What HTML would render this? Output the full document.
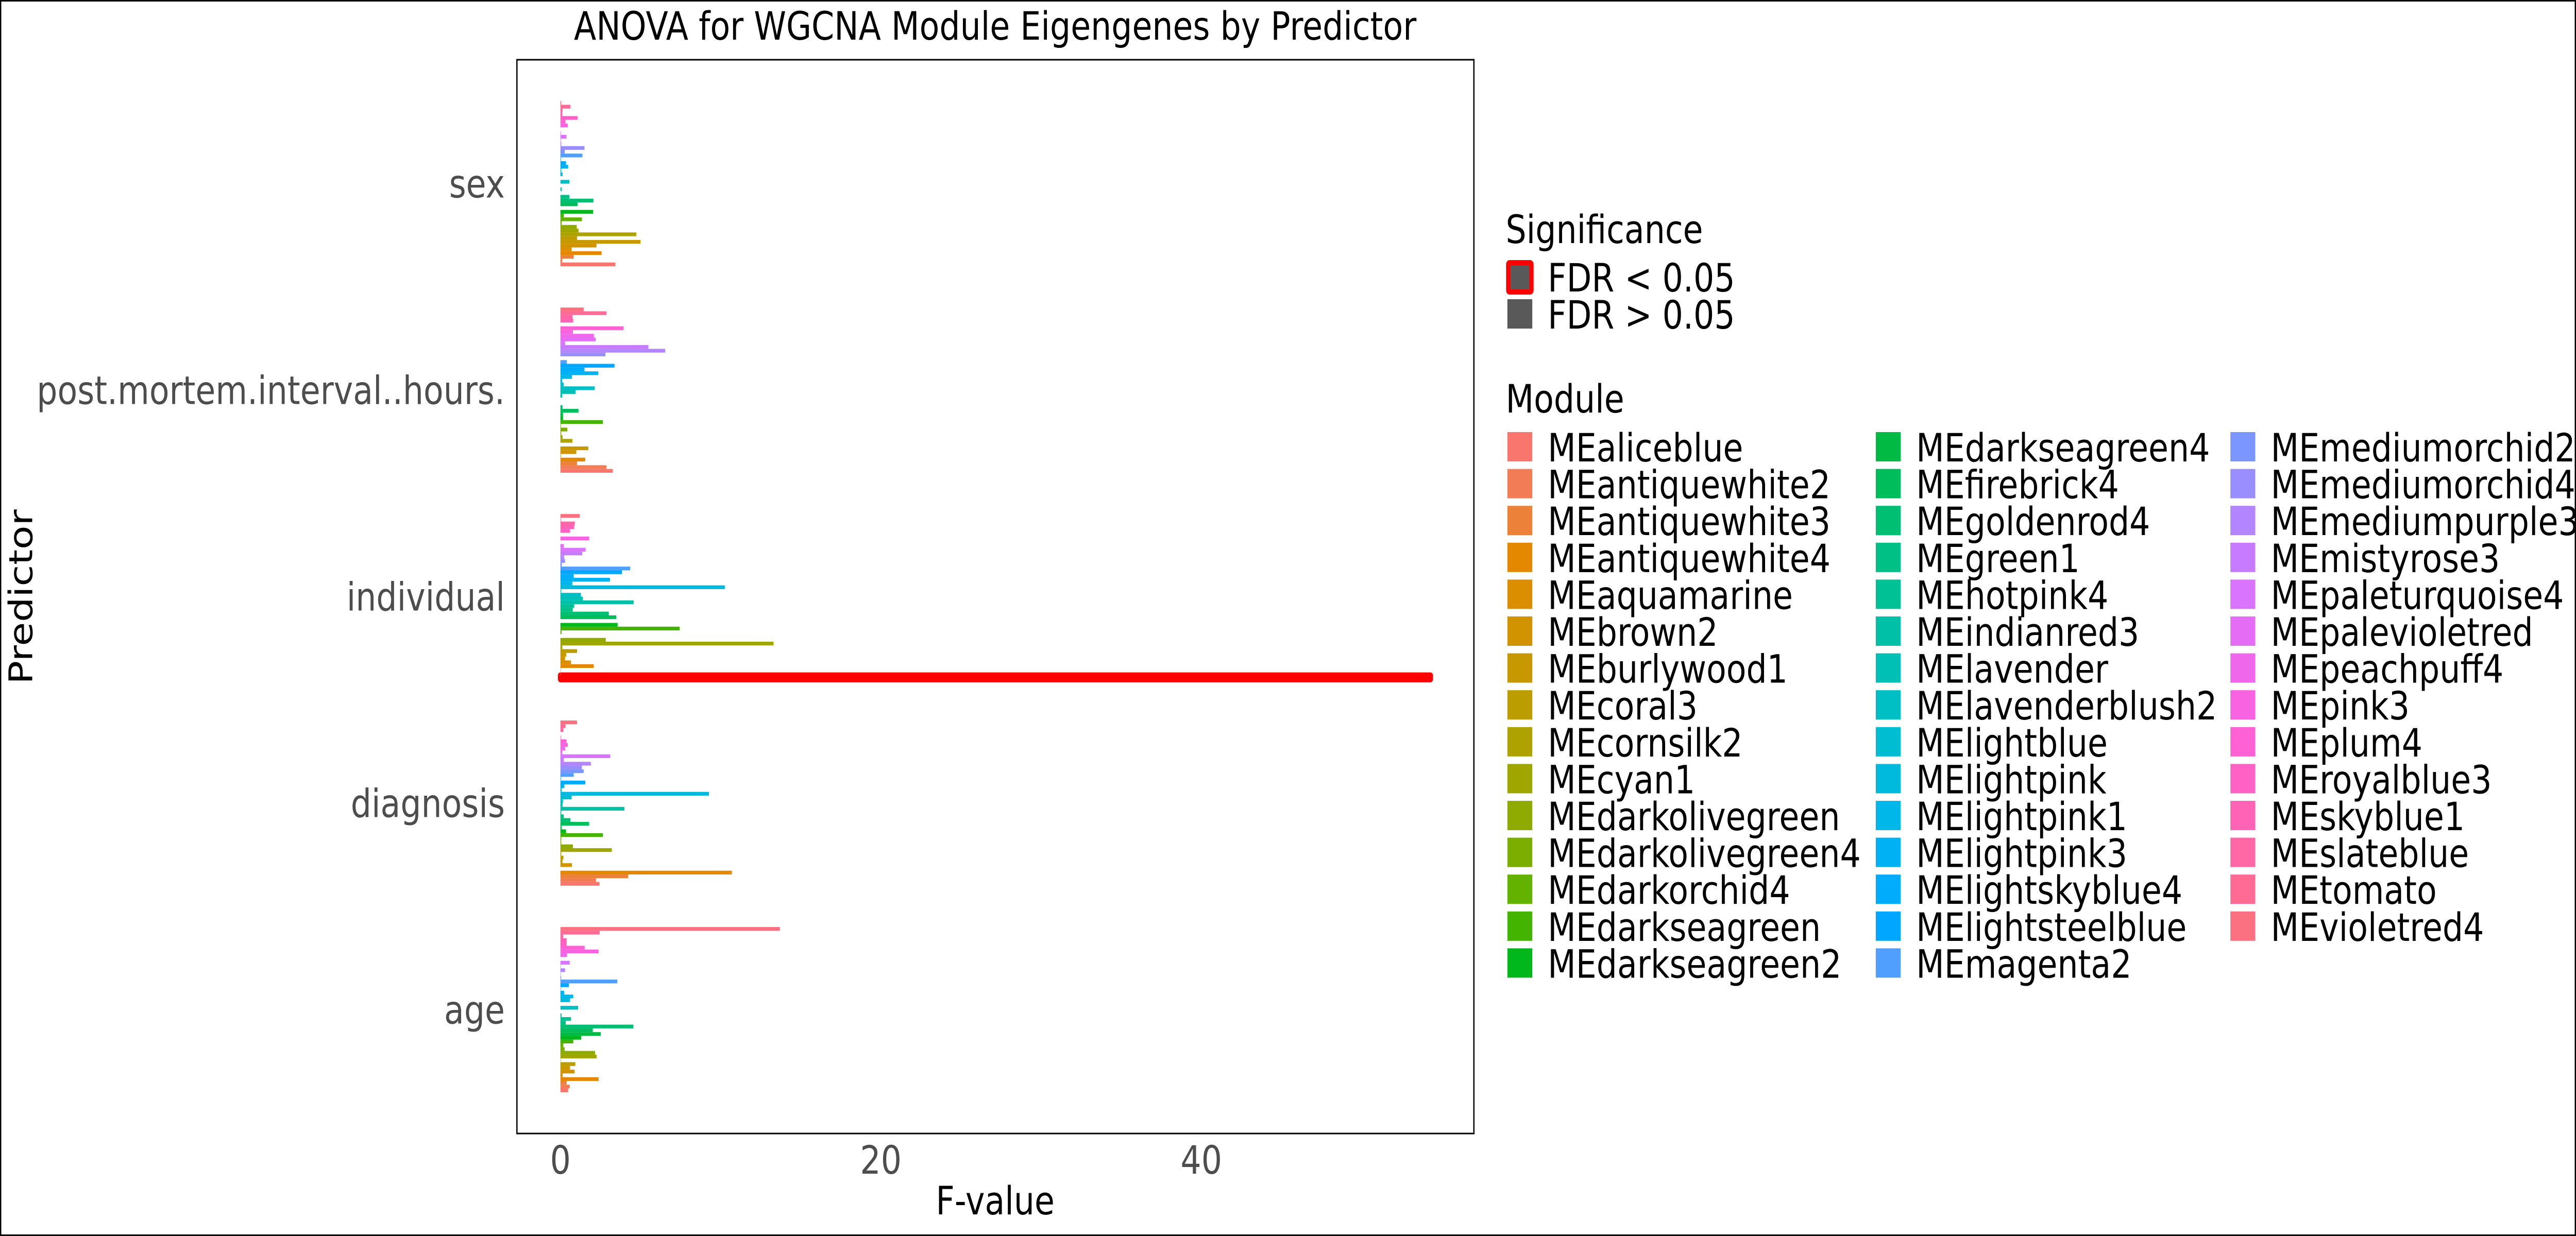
<!DOCTYPE html>
<html><head><meta charset="utf-8"><style>
html,body{margin:0;padding:0;background:#fff;overflow:hidden;width:100vw;height:100vh}
svg{display:block;width:100vw;height:100vh;font-family:"DejaVu Sans","Liberation Sans",sans-serif}
</style></head><body>
<svg id="chart" viewBox="0 0 6000 2400" preserveAspectRatio="none">
<rect x="1.5" y="1.5" width="5997" height="2397" fill="#fff" stroke="#000" stroke-width="3"/>
<text x="2318" y="77" font-size="76" text-anchor="middle" fill="#000">ANOVA for WGCNA Module Eigengenes by Predictor</text>
<g id="bars"></g>
<rect x="1204" y="116" width="2229" height="2085" fill="none" stroke="#000" stroke-width="3"/>
<g id="yaxis"></g>
<g id="xaxis"></g>
<text x="2318" y="2358" font-size="76" text-anchor="middle" fill="#000">F-value</text>
<text transform="translate(75,1159) rotate(-90)" font-size="76" text-anchor="middle" fill="#000">Predictor</text>
<g id="legend">
<text x="3507" y="472" font-size="76" fill="#000">Significance</text>
<rect x="3513" y="510" width="54" height="57" rx="3" fill="#595959" stroke="#ff0000" stroke-width="10"/>
<text x="3605" y="566" font-size="76" fill="#000">FDR &lt; 0.05</text>
<rect x="3511" y="581" width="58" height="57" fill="#595959"/>
<text x="3605" y="638" font-size="76" fill="#000">FDR &gt; 0.05</text>
<text x="3507" y="801" font-size="76" fill="#000">Module</text>
</g>
</svg>
<script>
const modules = ["MEaliceblue","MEantiquewhite2","MEantiquewhite3","MEantiquewhite4","MEaquamarine","MEbrown2","MEburlywood1","MEcoral3","MEcornsilk2","MEcyan1","MEdarkolivegreen","MEdarkolivegreen4","MEdarkorchid4","MEdarkseagreen","MEdarkseagreen2","MEdarkseagreen4","MEfirebrick4","MEgoldenrod4","MEgreen1","MEhotpink4","MEindianred3","MElavender","MElavenderblush2","MElightblue","MElightpink","MElightpink1","MElightpink3","MElightskyblue4","MElightsteelblue","MEmagenta2","MEmediumorchid2","MEmediumorchid4","MEmediumpurple3","MEmistyrose3","MEpaleturquoise4","MEpalevioletred","MEpeachpuff4","MEpink3","MEplum4","MEroyalblue3","MEskyblue1","MEslateblue","MEtomato","MEvioletred4"];
const predictors = ["age","diagnosis","individual","post.mortem.interval..hours.","sex"];
const fAge = [0.48,0.58,0.39,2.38,0.14,0.88,0.60,0.93,0.02,2.26,2.16,0.26,0.18,0.80,1.30,2.52,2.02,4.55,0.33,0.66,0.07,0,1.10,0,0.60,0.80,0.23,0.02,0.53,3.55,0.04,0.02,0.29,0.02,0.58,0,0.41,2.38,1.51,0.39,0.39,0.17,2.45,13.7];
const fDiagnosis = [2.44,2.22,4.23,10.7,0,0.72,0.13,0.19,0.05,3.21,0.78,0.05,0.05,2.65,0.35,0.08,1.79,0.62,0.21,0.05,3.99,0.13,0.16,0.70,9.27,0.08,0.24,1.55,0.03,0.83,1.45,1.34,1.90,0.21,3.11,0.11,0.29,0.46,0.375,0.03,0,0.19,0.32,1.04];
const fIndividual = [54.3,0.02,0.02,2.08,0.66,0.29,0.36,1.04,0.12,13.3,2.83,0,0.07,7.44,3.57,0,3.49,3.02,0.77,0.86,4.57,1.39,1.28,0.04,10.26,0.74,3.09,0.83,3.84,4.35,0.09,0.29,0.23,1.36,1.57,0.21,0,1.79,0,0.60,0.86,0.90,0.03,1.20];
const fPMI = [3.27,2.87,1.04,1.55,0.03,0.99,1.74,0,0.75,0.13,0.05,0.43,0.03,2.65,0.16,0.16,1.125,0.13,0,0,0.11,0.94,2.14,0.21,0.11,0.72,2.36,1.5,3.375,0.40,0,2.81,6.54,5.49,0.29,2.2,2.09,0.78,3.94,0,0.80,0.75,2.87,1.45];
const fSex = [3.43,0.11,0.83,2.57,0.70,2.25,5.0,1.04,4.74,1.13,1.02,0.08,1.34,0.21,2.04,0,1.07,2.06,0.56,0,0.08,0,0.56,0,0.13,0.05,0.48,0.35,0.03,1.37,0.27,1.5,0.05,0.03,0.375,0.03,0,0.46,0.32,1.07,0.11,0.13,0.62,0.05];
const significantPredictor = ["individual"];
const significantModule = ["MEaliceblue"];
const xTicks = [0,20,40];

const NS="http://www.w3.org/2000/svg";
const series=[fAge,fDiagnosis,fIndividual,fPMI,fSex];
function hcl(h,c,l){
  const Xn=95.047,Yn=100,Zn=108.883;
  const hr=h*Math.PI/180,U=c*Math.cos(hr),V=c*Math.sin(hr);
  const Y=l>8?Yn*Math.pow((l+16)/116,3):Yn*l/903.3;
  const t=Xn+15*Yn+3*Zn,un=4*Xn/t,vn=9*Yn/t;
  const u=U/(13*l)+un,v=V/(13*l)+vn;
  const X=9*Y*u/(4*v),Z=-X/3-5*Y+3*Y/v;
  const x=X/100,y=Y/100,z=Z/100;
  let r=3.240479*x-1.53715*y-0.498535*z,g=-0.969256*x+1.875992*y+0.041556*z,b=0.055648*x-0.204043*y+1.057311*z;
  const gm=q=>{q=q<=0.0031308?12.92*q:1.055*Math.pow(q,1/2.4)-0.055;return Math.round(Math.max(0,Math.min(1,q))*255);};
  return "rgb("+gm(r)+","+gm(g)+","+gm(b)+")";
}
const n=modules.length;
const colors=modules.map((m,i)=>hcl(15+360*i/n,100,65));
const panelL=1204,panelR=3433,panelT=116,panelB=2201;
let fmax=0;series.forEach(s=>s.forEach(v=>{if(v>fmax)fmax=v;}));
const xlo=-0.05*fmax,xhi=fmax*1.05;
const xs=v=>panelL+(v-xlo)/(xhi-xlo)*(panelR-panelL);
const unit=(panelB-panelT)/(predictors.length-1+1.2);
const yCat=p=>panelB-0.6*unit-p*unit;
const groupW=0.8*unit,bw=groupW/n;
const barsG=document.getElementById("bars");
series.forEach((vals,p)=>{
  vals.forEach((v,i)=>{
    const cy=yCat(p)+groupW/2-(i+0.5)*bw;
    const r=document.createElementNS(NS,"rect");
    r.setAttribute("x",xs(0));r.setAttribute("y",cy-bw/2);
    r.setAttribute("width",Math.max(0,xs(v)-xs(0)));r.setAttribute("height",bw);
    r.setAttribute("fill",colors[i]);
    const sig=significantPredictor.some((sp,k)=>sp===predictors[p]&&significantModule[k]===modules[i]);
    if(sig){r.setAttribute("stroke","#ff0000");r.setAttribute("stroke-width","12");r.setAttribute("stroke-linejoin","round");}
    
    
    barsG.appendChild(r);
  });
});
const yg=document.getElementById("yaxis");
predictors.forEach((p,k)=>{
  const t=document.createElementNS(NS,"text");
  t.setAttribute("x",1176);t.setAttribute("y",yCat(k)+27);
  t.setAttribute("text-anchor","end");t.setAttribute("font-size","76");t.setAttribute("fill","#4d4d4d");
  t.textContent=p;
  
  
  yg.appendChild(t);
});
const xg=document.getElementById("xaxis");
xTicks.forEach(v=>{
  const t=document.createElementNS(NS,"text");
  t.setAttribute("x",xs(v));t.setAttribute("y",2279);
  t.setAttribute("text-anchor","middle");t.setAttribute("font-size","76");t.setAttribute("fill","#4d4d4d");
  t.textContent=v;
  
  
  xg.appendChild(t);
});
const lg=document.getElementById("legend");
const colX=[3511,4369,5195],rowsPer=15;
modules.forEach((m,i)=>{
  const c=Math.floor(i/rowsPer),r=i%rowsPer;
  const y0=839+r*71.6;
  const k=document.createElementNS(NS,"rect");
  k.setAttribute("x",colX[c]);k.setAttribute("y",y0);k.setAttribute("width",58);k.setAttribute("height",57);
  k.setAttribute("fill",colors[i]);
  
  
  lg.appendChild(k);
  const t=document.createElementNS(NS,"text");
  t.setAttribute("x",colX[c]+94);t.setAttribute("y",y0+57);
  t.setAttribute("font-size","76");t.setAttribute("fill","#000");
  t.textContent=m;
  
  
  lg.appendChild(t);
});
</script>
</body></html>
